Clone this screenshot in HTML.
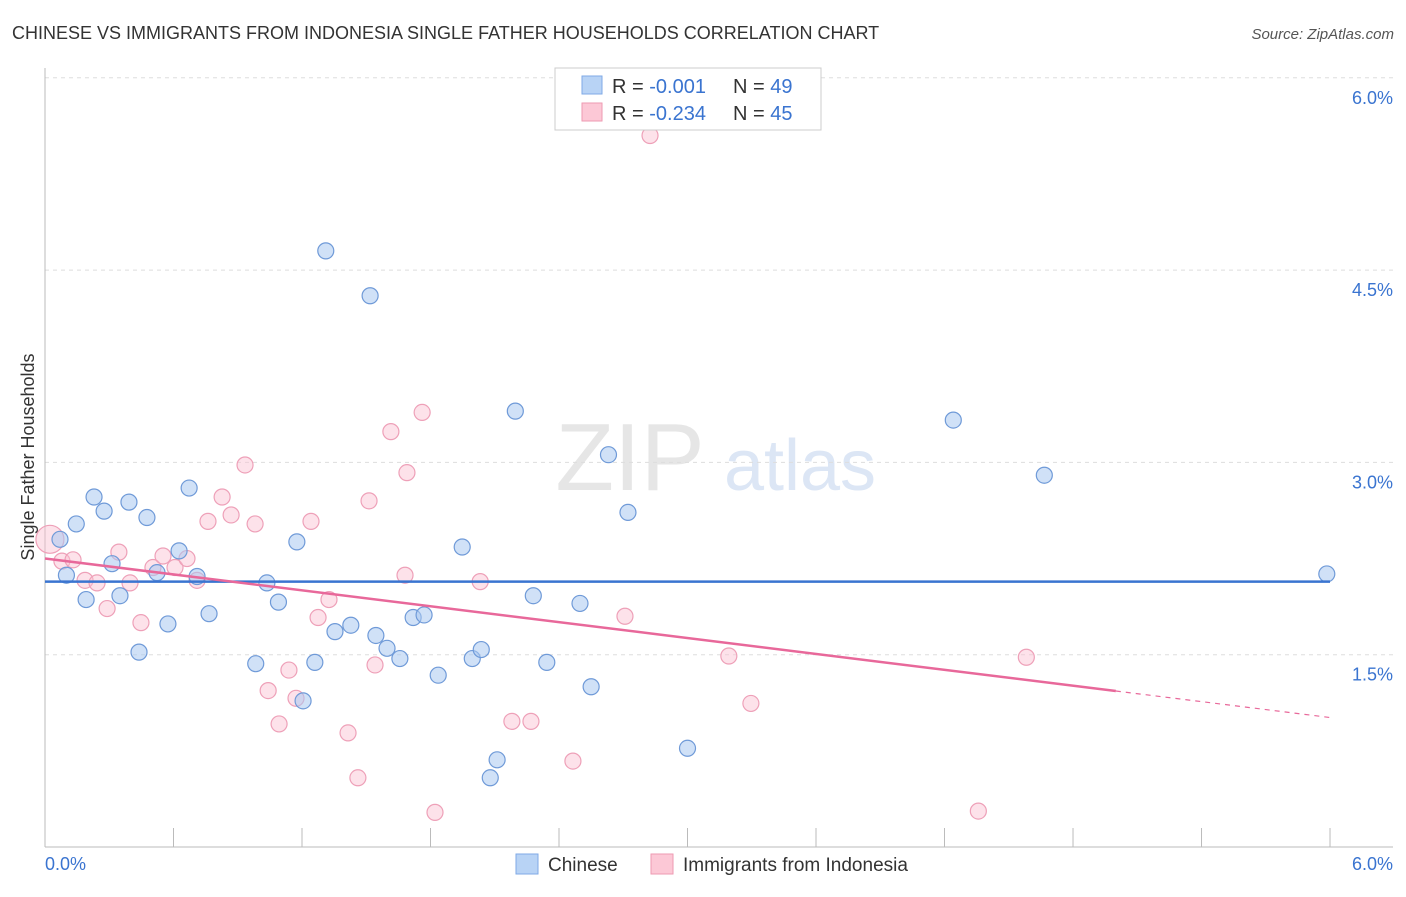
<!DOCTYPE html>
<html><head><meta charset="utf-8"><style>
body{margin:0;background:#fff;font-family:"Liberation Sans",sans-serif;}
svg text{font-family:"Liberation Sans",sans-serif;}
</style></head><body>
<svg width="1406" height="892">
<text x="12" y="39" font-size="18" fill="#333">CHINESE VS IMMIGRANTS FROM INDONESIA SINGLE FATHER HOUSEHOLDS CORRELATION CHART</text>
<text x="1394" y="39" font-size="15" fill="#555" text-anchor="end" font-style="italic">Source: ZipAtlas.com</text>
<text x="630" y="490" font-size="96" fill="#e6e6e6" font-family="Liberation Serif" text-anchor="middle">ZIP</text>
<text x="800" y="490" font-size="72" fill="#dce6f5" text-anchor="middle">atlas</text>
<g id="grid"></g><g id="axes"></g>
<text transform="translate(34,457) rotate(-90)" font-size="18" fill="#333" text-anchor="middle">Single Father Households</text>
<g id="pts"></g><g id="lines"></g>
<g>
<rect x="555" y="68" width="266" height="62" fill="#fff" stroke="#ccc"/>
<rect x="582" y="76" width="20" height="18" fill="#b8d3f5" stroke="#7fa9e6"/>
<rect x="582" y="103" width="20" height="18" fill="#fcc8d6" stroke="#ee9ab2"/>
<text x="612" y="93" font-size="20" fill="#333">R = <tspan fill="#3a74d0">-0.001</tspan><tspan x="733">N = </tspan><tspan fill="#3a74d0">49</tspan></text>
<text x="612" y="120" font-size="20" fill="#333">R = <tspan fill="#3a74d0">-0.234</tspan><tspan x="733">N = </tspan><tspan fill="#3a74d0">45</tspan></text>
</g>
<g>
<rect x="516" y="854" width="22" height="20" fill="#b8d3f5" stroke="#7fa9e6"/>
<text x="548" y="871" font-size="19" fill="#333">Chinese</text>
<rect x="651" y="854" width="22" height="20" fill="#fcc8d6" stroke="#ee9ab2"/>
<text x="683" y="871" font-size="19" fill="#333">Immigrants from Indonesia</text>
</g>
</svg>
<script>
const yTicks=[1.5,3.0,4.5,6.0];
const xTickLabels=["0.0%","6.0%"];
const chineseX=[0.07,0.1,0.146,0.192,0.229,0.276,0.313,0.35,0.392,0.439,0.476,0.523,0.574,0.626,0.673,0.71,0.766,0.984,1.036,1.09,1.176,1.205,1.26,1.311,1.354,1.428,1.518,1.545,1.597,1.657,1.719,1.77,1.836,1.948,1.995,2.037,2.079,2.111,2.196,2.28,2.343,2.498,2.55,2.631,2.722,3.0,4.241,4.666,5.985];
const chineseY=[2.4,2.12,2.52,1.93,2.73,2.62,2.21,1.96,2.69,1.52,2.57,2.14,1.74,2.31,2.8,2.11,1.82,1.43,2.06,1.91,2.38,1.14,1.44,4.65,1.68,1.73,4.3,1.65,1.55,1.47,1.79,1.81,1.34,2.34,1.47,1.54,0.54,0.68,3.4,1.96,1.44,1.9,1.25,3.06,2.61,0.77,3.33,2.9,2.13];
const indoX=[0.023,0.079,0.131,0.187,0.243,0.29,0.345,0.397,0.448,0.504,0.551,0.607,0.663,0.71,0.761,0.827,0.869,0.934,0.981,1.042,1.093,1.139,1.172,1.242,1.275,1.326,1.415,1.461,1.513,1.541,1.615,1.681,1.69,1.761,1.821,2.032,2.18,2.269,2.465,2.708,2.825,3.193,3.296,4.358,4.582];
const indoY=[2.4,2.23,2.24,2.08,2.06,1.86,2.3,2.06,1.75,2.18,2.27,2.18,2.25,2.08,2.54,2.73,2.59,2.98,2.52,1.22,0.96,1.38,1.16,2.54,1.79,1.93,0.89,0.54,2.7,1.42,3.24,2.12,2.92,3.39,0.27,2.07,0.98,0.98,0.67,1.8,5.55,1.49,1.12,0.28,1.48];
const chineseFit=[2.07,2.07];
const indoFit=[2.25,1.01];
const NS="http://www.w3.org/2000/svg";
const X=v=>45+v*214.17, Y=v=>847-v*128.2;
function mk(t,a,p){const e=document.createElementNS(NS,t);for(const k in a)e.setAttribute(k,a[k]);p.appendChild(e);return e;}
const grid=document.getElementById('grid'),axes=document.getElementById('axes'),pts=document.getElementById('pts'),lines=document.getElementById('lines');
yTicks.forEach(t=>{const l=mk('line',{x1:45,x2:1393,y1:Y(t),y2:Y(t),stroke:'#ddd','stroke-dasharray':'4,4'},grid);


const tx=mk('text',{x:1393,y:Y(t)+26,'font-size':18,fill:'#3a74d0','text-anchor':'end'},grid);tx.textContent=t.toFixed(1)+'%';

});
const ya=mk('line',{x1:45,x2:45,y1:68,y2:847,stroke:'#bbb'},axes);


const xa=mk('line',{x1:45,x2:1393,y1:847,y2:847,stroke:'#bbb'},axes);


for(let i=0;i<=10;i++){const tk=mk('line',{x1:X(i*0.6),x2:X(i*0.6),y1:828,y2:847,stroke:'#bbb'},axes);

}
[[0,'start',45],[6,'end',1393]].forEach((d,i)=>{const t=mk('text',{x:d[2],y:870,'font-size':18,fill:'#3a74d0','text-anchor':d[1]},axes);t.textContent=xTickLabels[i];

});
indoX.forEach((x,i)=>{const c=mk('circle',{cx:X(x),cy:Y(indoY[i]),r:i==0?14:8,fill:'rgba(250,190,208,0.45)',stroke:'#eea0b8','stroke-width':1.2},pts);

});
chineseX.forEach((x,i)=>{const c=mk('circle',{cx:X(x),cy:Y(chineseY[i]),r:8,fill:'rgba(170,200,240,0.55)',stroke:'#6f9ad8','stroke-width':1.2},pts);

});
const bl=mk('line',{x1:X(0),x2:X(6),y1:Y(chineseFit[0]),y2:Y(chineseFit[1]),stroke:'#3a74d0','stroke-width':2.5},lines);


const iy=x=>indoFit[0]+(indoFit[1]-indoFit[0])*x/6;
const pl=mk('line',{x1:X(0),x2:X(5),y1:Y(iy(0)),y2:Y(iy(5)),stroke:'#e8689a','stroke-width':2.5},lines);


const pd=mk('line',{x1:X(5),x2:X(6),y1:Y(iy(5)),y2:Y(iy(6)),stroke:'#e8689a','stroke-width':1.2,'stroke-dasharray':'5,5'},lines);


</script>
</body></html>
